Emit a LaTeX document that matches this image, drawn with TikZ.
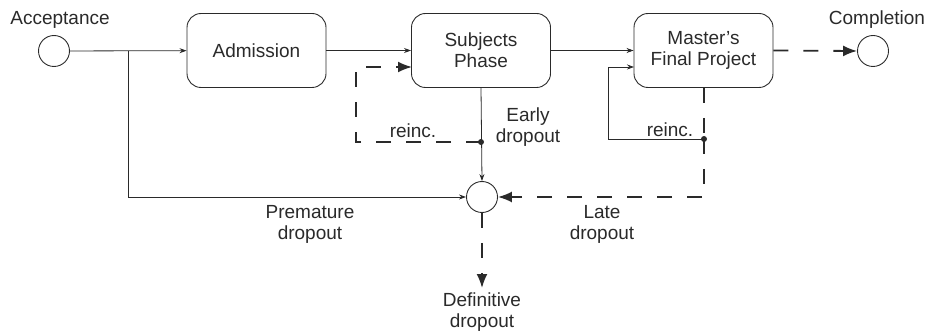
\documentclass[tikz,border=0pt]{standalone}
\usepackage{fontspec}
\setmainfont{Liberation Sans}
\usetikzlibrary{arrows.meta}
\definecolor{ink}{HTML}{2A2A2A}
\tikzset{
  lbl/.style={text=ink, font=\fontsize{19}{21}\selectfont, align=center, inner sep=0pt},
  box/.style={draw=ink, line width=0.9pt, rounded corners=14pt, minimum width=139pt, minimum height=74pt, lbl},
  circ/.style={draw=ink, line width=0.9pt, circle, minimum size=31pt, inner sep=0pt},
  sarrow/.style={draw=ink, line width=0.8pt, -{Stealth[length=7pt,width=5pt]}},
  sline/.style={draw=ink, line width=0.8pt},
  darrow/.style={draw=ink, line width=1.8pt, dash pattern=on 15pt off 15pt, -{Latex[length=14pt,width=11pt]}},
  dline/.style={draw=ink, line width=1.8pt, dash pattern=on 15pt off 15pt},
  dot/.style={fill=ink, circle, inner sep=0pt, minimum size=6pt}
}
\begin{document}
\begin{tikzpicture}[x=1pt,y=-1pt]
\useasboundingbox (0,0) rectangle (929,331);
% nodes
\node[circ] (acc) at (54,51) {};
\node[lbl] (acclbl) at (60,20) {Acceptance};
\node[box] (adm) at (256.5,50.5) {Admission};
\node[box] (subj) at (481,50.5) {Subjects\\Phase};
\node[box] (mfp) at (703.5,50.5) {Master’s\\Final Project};
\node[circ] (comp) at (873,51) {};
\node[lbl] (complbl) at (877,20) {Completion};
\node[circ] (drop) at (482,197) {};
% coordinates
\coordinate (br) at (128,51);
\coordinate (subjin) at (412,67);
\coordinate (mfpin) at (634,67);
\node[dot] (j1) at (481,142) {};
\node[dot] (j2) at (704,139) {};
\coordinate (dl1) at (356,142);
\coordinate (dl2) at (356,67);
\coordinate (sl1) at (608,139);
\coordinate (sl2) at (608,67);
\coordinate (lc) at (704,197);
\coordinate (pc) at (128,197);
\coordinate (defend) at (482,288);
% connectors
\draw[sarrow] (acc) -- (adm);
\draw[sarrow] (br) -- (pc) -- (drop.west);
\draw[sarrow] (adm) -- (subj);
\draw[sarrow] (subj) -- (mfp);
\draw[darrow] (j1.center) -- (dl1) -- (dl2) -- (subjin);
\draw[sarrow] (subj.south) -- (drop.north);
\draw[sarrow] (j2.center) -- (sl1) -- (sl2) -- (mfpin);
\draw[dline] (mfp.south -| j2) -- (j2.center);
\draw[darrow] (j2.center) -- (lc) -- (drop.east);
\draw[darrow] (mfp.east) -- (comp.west);
\draw[darrow] (drop.south) -- (defend);
% labels
\node[lbl] (r1) at (413,131) {reinc.};
\node[lbl] (r2) at (670,130) {reinc.};
\node[lbl] (early) at (528,127) {Early\\dropout};
\node[lbl] (prem) at (310,224) {Premature\\dropout};
\node[lbl] (late) at (602,224) {Late\\dropout};
\node[lbl] (def) at (482,312) {Definitive\\dropout};
\end{tikzpicture}
\end{document}
